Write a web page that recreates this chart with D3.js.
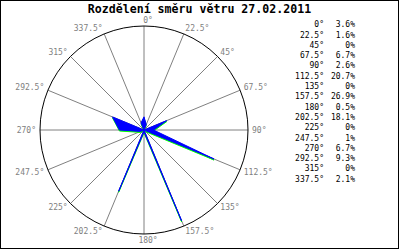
<!DOCTYPE html>
<html>
<head>
<meta charset="utf-8">
<script src="https://cdn.jsdelivr.net/npm/d3@7"></script>
<style>
  body { margin: 0; background: #fff; }
  svg text { font-family: "DejaVu Sans Mono", "Liberation Mono", monospace; }
</style>
</head>
<body>
<svg id="chart" width="400" height="250"></svg>
<script>
// wind directions (degrees) and share of time (%)
const directions = [0, 22.5, 45, 67.5, 90, 112.5, 135, 157.5, 180, 202.5, 225, 247.5, 270, 292.5, 315, 337.5]
const shares = [3.6, 1.6, 0, 6.7, 2.6, 20.7, 0, 26.9, 0.5, 18.1, 0, 1, 6.7, 9.3, 0, 2.1]
const title = 'Rozdělení směru větru 27.02.2011'

const svg = d3.select('#chart')
const cx = 144, cy = 130, radius = 104

svg.append('rect')
  .attr('x', 0.5).attr('y', 0.5).attr('width', 398).attr('height', 248)
  .attr('fill', 'none').attr('stroke', '#000')

svg.append('text')
  .attr('x', 199.5).attr('y', 13)
  .attr('text-anchor', 'middle')
  .attr('font-size', '11.6px')
  .attr('font-weight', 'bold')
  .text(title)

const rScale = d3.scaleLinear().domain([0, 28.4]).range([0, radius])
const toRad = d => d * Math.PI / 180

const g = svg.append('g').attr('transform', 'translate(' + cx + ',' + cy + ')')

// spokes
g.selectAll('.spoke').data(directions).join('line')
  .attr('class', 'spoke')
  .attr('x1', 0).attr('y1', 0)
  .attr('x2', d => radius * Math.sin(toRad(d)))
  .attr('y2', d => -radius * Math.cos(toRad(d)))
  .attr('stroke', '#808080')
  .attr('stroke-width', 1)

g.append('circle')
  .attr('r', radius)
  .attr('fill', 'none')
  .attr('stroke', '#000')

// direction labels around the circle
g.selectAll('.dir-label').data(directions).join('text')
  .attr('class', 'dir-label')
  .attr('font-size', '8px')
  .attr('fill', '#808080')
  .attr('dominant-baseline', 'central')
  .attr('text-anchor', function(d) {
    const s = Math.sin(toRad(d))
    if (Math.abs(s) < 0.01) return 'middle'
    return s > 0 ? 'start' : 'end'
  })
  .attr('x', function(d) {
    const s = Math.sin(toRad(d))
    if (Math.abs(s) < 0.01) return 4
    return radius * s + 4 * s
  })
  .attr('y', d => -radius * Math.cos(toRad(d)) - 6 * Math.cos(toRad(d)))
  .text(d => d + '°')

// rose polygon
const rose = d3.lineRadial()
  .angle(d => toRad(d.dir))
  .radius(d => rScale(d.value))
  .curve(d3.curveLinearClosed)

const roseData = directions.map((d, i) => ({ dir: d, value: shares[i] }))

g.append('path')
  .attr('d', rose(roseData))
  .attr('transform', 'translate(0,1)')
  .attr('fill', '#00ff00')
  .attr('stroke', '#00ff00')
  .attr('stroke-width', 1)
  .attr('stroke-linejoin', 'bevel')

g.append('path')
  .attr('d', rose(roseData))
  .attr('fill', '#0000ff')
  .attr('stroke', '#0000ff')
  .attr('stroke-width', 1)
  .attr('stroke-linejoin', 'bevel')

// legend on the right
const legend = svg.append('g')
legend.selectAll('.leg-dir').data(directions).join('text')
  .attr('class', 'leg-dir')
  .attr('x', 324)
  .attr('y', (d, i) => 24.7 + 10.3 * i)
  .attr('text-anchor', 'end')
  .attr('dominant-baseline', 'central')
  .attr('font-size', '8px')
  .text(d => d + '°')

legend.selectAll('.leg-val').data(shares).join('text')
  .attr('class', 'leg-val')
  .attr('x', 355)
  .attr('y', (d, i) => 24.7 + 10.3 * i)
  .attr('text-anchor', 'end')
  .attr('dominant-baseline', 'central')
  .attr('font-size', '8px')
  .text(d => d + '%')
</script>
</body>
</html>
